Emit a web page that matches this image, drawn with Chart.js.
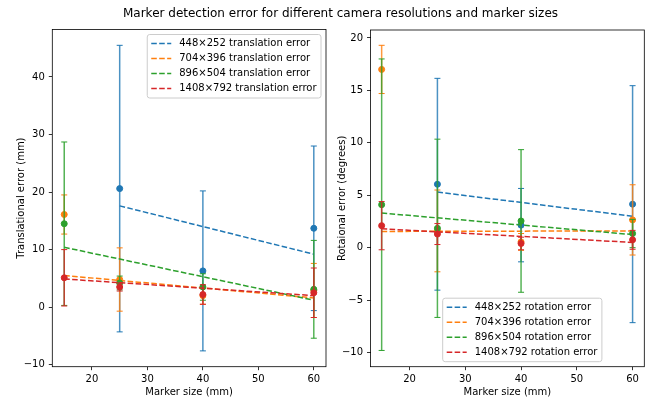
<!DOCTYPE html>
<html>
<head>
<meta charset="utf-8">
<script src="https://cdn.jsdelivr.net/npm/chart.js@4.4.1/dist/chart.umd.min.js"></script>
<style>
  html, body { margin: 0; padding: 0; background: #fff; }
  #wrap { position: relative; width: 653px; height: 401px; overflow: hidden; }
  #wrap canvas { position: absolute; left: 0; top: 0; }
  #suptitle {
    position: absolute; top: 6px; left: 340.5px; transform: translateX(-50%);
    font: 12px "DejaVu Sans"; line-height: 14px; color: #000; white-space: nowrap;
  }
</style>
</head>
<body>
<div id="wrap">
  <canvas id="transChart" width="653" height="401"></canvas>
  <canvas id="rotChart" width="653" height="401"></canvas>
  <div id="suptitle">Marker detection error for different camera resolutions and marker sizes</div>
</div>
<script>
const markerSizes = [15, 25, 40, 60];
const resolutions = ['448×252', '704×396', '896×504', '1408×792'];
const seriesColors = ['#1f77b4', '#ff7f0e', '#2ca02c', '#d62728'];
const xTicks = [20, 30, 40, 50, 60];
const transTicks = [-10, 0, 10, 20, 30, 40];
const rotTicks = [-10, -5, 0, 5, 10, 15, 20];

// translation error (mm), mean and std per marker size, null = not detected
const trans448 = [null, 20.6, 6.3, 13.7];
const trans448Err = [null, 24.9, 13.9, 14.3];
const trans704 = [16.1, 4.8, 2.0, 2.9];
const trans704Err = [3.4, 5.5, 1.5, 4.7];
const trans896 = [14.5, 4.2, 3.5, 3.1];
const trans896Err = [14.2, 1.2, 2.3, 8.5];
const trans1408 = [5.1, 3.5, 2.2, 2.5];
const trans1408Err = [4.9, 0.7, 1.7, 4.3];

// rotation error (degrees)
const rot448 = [null, 6.05, 2.15, 4.15];
const rot448Err = [null, 10.1, 3.5, 11.3];
const rot704 = [17.0, 1.6, 0.55, 2.65];
const rot704Err = [2.3, 3.9, 0.8, 3.35];
const rot896 = [4.1, 1.85, 2.55, 1.35];
const rot896Err = [13.9, 8.5, 6.8, 1.35];
const rot1408 = [2.1, 1.3, 0.4, 0.75];
const rot1408Err = [2.3, 1.0, 0.6, 0.9];

// linear fits: value at first detected size and at 60 mm
const fitStartX = [25, 15, 15, 15];
const fitEndX = [60, 60, 60, 60];
const transFitStart = [17.6, 5.5, 10.4, 4.9];
const transFitEnd = [9.2, 1.6, 1.2, 2.0];
const rotFitStart = [5.3, 1.55, 3.3, 1.8];
const rotFitEnd = [3.0, 1.6, 1.25, 0.5];

const font = { family: 'DejaVu Sans', size: 10 };
const fmt = v => (v < 0 ? '\u2212' + Math.abs(v) : String(v));

function buildDatasets(means, errs, fitFrom, fitTo, kind) {
  const sets = [];
  means.forEach((m, i) => {
    const col = seriesColors[i];
    const base = (4 - i) * 10;
    const bars = [];
    markerSizes.forEach((x, j) => {
      if (m[j] == null) return;
      bars.push({ x, y: m[j] - errs[i][j] }, { x, y: m[j] + errs[i][j] }, { x, y: null });
    });
    sets.push({
      data: bars, borderColor: col + 'cc', borderWidth: 1.5, spanGaps: false,
      pointStyle: 'line', pointRadius: 3, pointBorderWidth: 1, pointBorderColor: col,
      order: base + 3
    });
    sets.push({
      data: markerSizes.map((x, j) => ({ x, y: m[j] })).filter(p => p.y != null),
      showLine: false, pointRadius: 3, pointBorderWidth: 1,
      pointBackgroundColor: col, pointBorderColor: col, order: base + 2
    });
    sets.push({
      label: resolutions[i] + ' ' + kind + ' error',
      data: [{ x: fitStartX[i], y: fitFrom[i] }, { x: fitEndX[i], y: fitTo[i] }],
      borderColor: col, borderWidth: 1.5, borderDash: [5.55, 2.4], pointRadius: 0,
      order: base + 1
    });
  });
  return sets;
}

// axes frame + matplotlib-like legend box
const boxLegend = {
  id: 'boxLegend',
  afterDraw(chart, args, opts) {
    const { ctx, chartArea: a } = chart;
    ctx.save();
    ctx.strokeStyle = '#000';
    ctx.lineWidth = 0.8;
    ctx.strokeRect(a.left, a.top, a.right - a.left, a.bottom - a.top);

    const items = chart.data.datasets.filter(d => d.label);
    ctx.font = '10px "DejaVu Sans"';
    const textW = Math.max(...items.map(d => ctx.measureText(d.label).width));
    const w = 4 + 20 + 8 + textW + 4.5;
    const h = 9 + 15 * (items.length - 1) + 9.5;
    let x, y;
    if (opts.anchor === 'ne') { x = a.right - 5 - w; y = a.top + 5; }
    else { x = a.left + opts.dx; y = a.bottom - 5 - h; }

    ctx.beginPath();
    ctx.roundRect(x, y, w, h, 2.5);
    ctx.fillStyle = 'rgba(255,255,255,0.8)';
    ctx.fill();
    ctx.strokeStyle = '#cccccc';
    ctx.lineWidth = 1;
    ctx.stroke();

    items.forEach((d, k) => {
      const cy = y + 9 + 15 * k;
      ctx.strokeStyle = d.borderColor;
      ctx.lineWidth = 1.5;
      ctx.setLineDash(d.borderDash);
      ctx.beginPath();
      ctx.moveTo(x + 4, cy);
      ctx.lineTo(x + 24, cy);
      ctx.stroke();
      ctx.setLineDash([]);
      ctx.fillStyle = '#000';
      ctx.textBaseline = 'middle';
      ctx.fillText(d.label, x + 32, cy);
    });
    ctx.restore();
  }
};

function makeOptions(cfg) {
  return {
    responsive: false, animation: false, events: [],
    layout: { padding: cfg.padding },
    plugins: { legend: { display: false }, tooltip: { enabled: false }, boxLegend: cfg.legend },
    scales: {
      x: {
        type: 'linear', min: cfg.xMin, max: cfg.xMax,
        afterFit: s => { s.height = cfg.xHeight; },
        afterBuildTicks: s => { s.ticks = xTicks.map(v => ({ value: v })); },
        ticks: { color: '#000', font, padding: 3.5, maxRotation: 0, callback: fmt },
        grid: { drawOnChartArea: false, tickLength: 3.5, tickColor: '#000', tickWidth: 0.8 },
        border: { display: false },
        title: { display: true, text: 'Marker size (mm)', color: '#000', font, padding: { top: 0, bottom: 2.7 } }
      },
      y: {
        type: 'linear', min: cfg.yMin, max: cfg.yMax,
        afterFit: s => { s.width = cfg.yWidth; },
        afterBuildTicks: s => { s.ticks = cfg.yTicks.map(v => ({ value: v })); },
        ticks: { color: '#000', font, padding: 4, callback: fmt },
        grid: { drawOnChartArea: false, tickLength: 3.5, tickColor: '#000', tickWidth: 0.8 },
        border: { display: false },
        title: { display: true, text: cfg.yTitle, color: '#000', font, padding: { top: cfg.yTitlePad, bottom: 0 } }
      }
    }
  };
}

new Chart(document.getElementById('transChart'), {
  type: 'line',
  data: {
    datasets: buildDatasets([trans448, trans704, trans896, trans1408],
      [trans448Err, trans704Err, trans896Err, trans1408Err], transFitStart, transFitEnd, 'translation')
  },
  options: makeOptions({
    padding: { left: 0, top: 29.5, right: 653 - 326, bottom: 0 },
    xMin: 12.85, xMax: 62.2, xHeight: 401 - 366.7,
    yMin: -10.35, yMax: 48.25, yWidth: 52.3, yTicks: transTicks,
    yTitle: 'Translational error (mm)', yTitlePad: 15,
    legend: { anchor: 'ne' }
  }),
  plugins: [boxLegend]
});

new Chart(document.getElementById('rotChart'), {
  type: 'line',
  data: {
    datasets: buildDatasets([rot448, rot704, rot896, rot1408],
      [rot448Err, rot704Err, rot896Err, rot1408Err], rotFitStart, rotFitEnd, 'rotation')
  },
  options: makeOptions({
    padding: { left: 330, top: 30, right: 653 - 644.3, bottom: 0 },
    xMin: 13.0, xMax: 62.1, xHeight: 401 - 366.7,
    yMin: -11.35, yMax: 20.76, yWidth: 40.5, yTicks: rotTicks,
    yTitle: 'Rotaional error (degrees)', yTitlePad: 6,
    legend: { anchor: 'sw', dx: 72.2 }
  }),
  plugins: [boxLegend]
});
</script>
</body>
</html>
